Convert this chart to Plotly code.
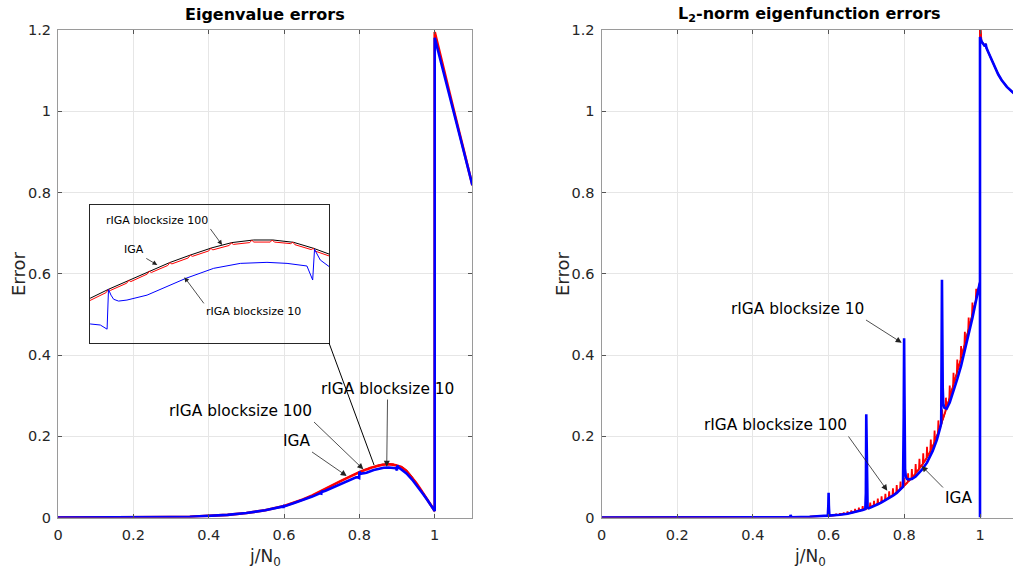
import plotly.graph_objects as go

W, H = 1013, 576

# ---------------- Left panel: eigenvalue errors ----------------
ev_x_iga = [0, 0.1, 0.2, 0.25, 0.3, 0.35, 0.4, 0.45, 0.5, 0.55, 0.6, 0.625, 0.65, 0.675, 0.7, 0.725,
            0.75, 0.775, 0.7912, 0.8, 0.8104, 0.8205, 0.8299, 0.84, 0.8506, 0.8603, 0.8709, 0.8803,
            0.8904, 0.9001, 0.908, 0.915, 0.925, 0.94, 0.95, 0.96, 0.97, 0.98, 0.99, 1.0,
            1.0, 1.025, 1.05, 1.075, 1.1]
ev_y_iga = [0, 0.00001, 0.00015, 0.0004, 0.0009, 0.0019, 0.0037, 0.0065, 0.011, 0.018, 0.0285, 0.036,
            0.0445, 0.0545, 0.0655, 0.0775, 0.0895, 0.1015, 0.1091, 0.1125, 0.1161, 0.1197, 0.1228,
            0.1257, 0.1285, 0.1305, 0.1315, 0.1315, 0.1306, 0.1283, 0.1260, 0.1228, 0.1155, 0.0995,
            0.087, 0.0735, 0.0595, 0.0455, 0.030, 0.016,
            1.19, 1.097, 1.005, 0.912, 0.818]

ev_x_r100 = [0, 0.1, 0.2, 0.25, 0.3, 0.35, 0.4, 0.45, 0.5, 0.55, 0.6, 0.625, 0.65, 0.675, 0.7, 0.725,
             0.75, 0.775,
             0.789, 0.79, 0.791, 0.799, 0.8, 0.801, 0.809, 0.81, 0.811, 0.819, 0.82, 0.821,
             0.829, 0.83, 0.831, 0.839, 0.84, 0.841, 0.849, 0.85, 0.851, 0.859, 0.86, 0.861,
             0.869, 0.87, 0.871, 0.879, 0.88, 0.881, 0.889, 0.89, 0.891, 0.899, 0.9, 0.901,
             0.909, 0.91, 0.911,
             0.925, 0.94, 0.95, 0.96, 0.97, 0.98, 0.99, 1.0,
             1.0, 1.025, 1.05, 1.075, 1.1]
ev_y_r100 = [0, 0.00001, 0.00015, 0.0004, 0.0009, 0.0019, 0.0037, 0.0065, 0.011, 0.018, 0.0285, 0.036,
             0.0445, 0.0545, 0.0655, 0.0775, 0.0895, 0.1007,
             0.1074, 0.1086, 0.1082, 0.1113, 0.1125, 0.1121, 0.1149, 0.1160, 0.1155, 0.1184, 0.1195,
             0.1190, 0.1217, 0.1228, 0.1223, 0.1246, 0.1257, 0.1252, 0.1273, 0.1283, 0.1277, 0.1294,
             0.1304, 0.1298, 0.1305, 0.1314, 0.1307, 0.1307, 0.1315, 0.1307, 0.1301, 0.1307, 0.1297,
             0.1278, 0.1283, 0.1272, 0.1250, 0.1255, 0.1244,
             0.1147, 0.0987, 0.0862, 0.0727, 0.0587, 0.0447, 0.0292, 0.016,
             1.195, 1.097, 1.005, 0.912, 0.818]

ev_x_r10 = [0, 0.1, 0.2, 0.25, 0.3, 0.35, 0.4, 0.45, 0.5, 0.55, 0.595, 0.599, 0.6, 0.602, 0.625, 0.65,
            0.675, 0.695, 0.699, 0.7, 0.702, 0.71, 0.725, 0.75, 0.775, 0.7912, 0.7961, 0.7994, 0.8001,
            0.8013, 0.8026, 0.805, 0.8091, 0.8189, 0.838, 0.8514, 0.8644, 0.8774, 0.8872, 0.8969,
            0.8997, 0.9006, 0.9034, 0.9075, 0.915, 0.925, 0.94, 0.95, 0.96, 0.97, 0.98, 0.99, 1.0,
            1.0, 1.025, 1.05, 1.075, 1.1]
ev_y_r10 = [0, 0.00001, 0.00015, 0.0004, 0.0009, 0.0019, 0.0037, 0.0065, 0.011, 0.0178, 0.0266, 0.0262,
            0.0285, 0.0280, 0.0350, 0.0425, 0.0515, 0.0595, 0.0585, 0.0652, 0.0635, 0.0660, 0.0720,
            0.0825, 0.0935, 0.0992, 0.0988, 0.0972, 0.1125, 0.1103, 0.1087, 0.1080, 0.1084, 0.1103,
            0.1168, 0.1206, 0.1225, 0.1229, 0.1225, 0.1215, 0.1161, 0.1279, 0.1238, 0.1212, 0.1170,
            0.1085, 0.0935, 0.0820, 0.0695, 0.0565, 0.0435, 0.0285, 0.016,
            1.181, 1.092, 1.002, 0.910, 0.818]

# ---------------- Right panel: L2-norm eigenfunction errors ----------------
ef_x_iga = [0, 0.3, 0.4, 0.45, 0.5, 0.55, 0.6, 0.61, 0.62, 0.63, 0.64, 0.65, 0.66, 0.67, 0.68, 0.69,
            0.7, 0.71, 0.72, 0.73, 0.74, 0.75, 0.76, 0.77, 0.78, 0.79, 0.8, 0.81, 0.82, 0.83, 0.84,
            0.85, 0.86, 0.87, 0.88, 0.89, 0.9, 0.91, 0.92, 0.93, 0.94, 0.95, 0.96, 0.97, 0.98, 0.99,
            1.0, 1.0, 1.004, 1.009, 1.013, 1.015, 1.017, 1.022, 1.031, 1.040, 1.048, 1.057, 1.071,
            1.087, 1.1]
ef_y_iga = [0, 0.00003, 0.0001, 0.0003, 0.0007, 0.0018, 0.0042, 0.0050, 0.0060, 0.0071, 0.0084, 0.0098,
            0.0117, 0.0139, 0.0163, 0.0190, 0.0220, 0.0254, 0.0291, 0.0333, 0.0380, 0.0430, 0.0487,
            0.0548, 0.0616, 0.0695, 0.0780, 0.0875, 0.0975, 0.1085, 0.1205, 0.1330, 0.148, 0.165,
            0.186, 0.210, 0.236, 0.265, 0.295, 0.326, 0.359, 0.392, 0.427, 0.462, 0.499, 0.538,
            0.580, 1.22, 1.172, 1.166, 1.160, 1.166, 1.156, 1.145, 1.125, 1.106, 1.091, 1.077, 1.060,
            1.046, 1.038]

# rIGA blocksize 100: narrow teeth at every block boundary (left foot, top, right foot)
ef_x_r100 = [0, 0.3, 0.4, 0.45, 0.5, 0.55,
             0.5988, 0.60, 0.6012, 0.6088, 0.61, 0.6112, 0.6188, 0.62, 0.6212,
             0.6288, 0.63, 0.6312, 0.6388, 0.64, 0.6412, 0.6488, 0.65, 0.6512,
             0.6588, 0.66, 0.6612, 0.6688, 0.67, 0.6712, 0.6788, 0.68, 0.6812,
             0.6888, 0.69, 0.6912, 0.6988, 0.70, 0.7012, 0.7088, 0.71, 0.7112,
             0.7188, 0.72, 0.7212, 0.7288, 0.73, 0.7312, 0.7388, 0.74, 0.7412,
             0.7488, 0.75, 0.7512, 0.7588, 0.76, 0.7612, 0.7688, 0.77, 0.7712,
             0.7788, 0.78, 0.7812, 0.7888, 0.79, 0.7912, 0.7988, 0.80, 0.8012,
             0.8088, 0.81, 0.8112, 0.8188, 0.82, 0.8212, 0.8288, 0.83, 0.8312,
             0.8388, 0.84, 0.8412, 0.8488, 0.85, 0.8512, 0.8588, 0.86, 0.8612,
             0.8688, 0.87, 0.8712, 0.8788, 0.88, 0.8812, 0.8888, 0.89, 0.8912,
             0.8988, 0.90, 0.9012, 0.9088, 0.91, 0.9112, 0.9188, 0.92, 0.9212,
             0.9288, 0.93, 0.9312, 0.9388, 0.94, 0.9412, 0.9488, 0.95, 0.9512,
             0.9588, 0.96, 0.9612, 0.9688, 0.97, 0.9712, 0.9788, 0.98, 0.9812,
             0.9888, 0.99, 0.9912,
             1.0, 1.0, 1.004, 1.009, 1.013, 1.015, 1.017, 1.022, 1.031, 1.040, 1.048, 1.057, 1.071,
             1.087, 1.1]
ef_y_r100 = [0, 0.00003, 0.0001, 0.0003, 0.0007, 0.0018,
             0.0041, 0.0062, 0.0043, 0.0049, 0.0070, 0.0051, 0.0059, 0.0090, 0.0061,
             0.0069, 0.0101, 0.0073, 0.0082, 0.0124, 0.0086, 0.0096, 0.0148, 0.0100,
             0.0115, 0.0177, 0.0119, 0.0136, 0.0209, 0.0142, 0.0160, 0.0243, 0.0166,
             0.0187, 0.0280, 0.0193, 0.0216, 0.0320, 0.0224, 0.0250, 0.0364, 0.0258,
             0.0286, 0.0411, 0.0296, 0.0328, 0.0463, 0.0338, 0.0374, 0.0520, 0.0386,
             0.0424, 0.0580, 0.0436, 0.0480, 0.0647, 0.0494, 0.0540, 0.0718, 0.0556,
             0.0607, 0.0796, 0.0625, 0.0685, 0.0885, 0.0705, 0.0769, 0.0980, 0.0791,
             0.0863, 0.1085, 0.0887, 0.0962, 0.1195, 0.0988, 0.1071, 0.1315, 0.1099,
             0.1190, 0.1445, 0.1220, 0.1313, 0.1580, 0.1347, 0.1461, 0.1740, 0.1499,
             0.1627, 0.1920, 0.1673, 0.1833, 0.2140, 0.1887, 0.2070, 0.2390, 0.2130,
             0.2327, 0.2660, 0.2393, 0.2615, 0.2950, 0.2685, 0.2913, 0.3250, 0.2987,
             0.3222, 0.3560, 0.3298, 0.3550, 0.3890, 0.3630, 0.3879, 0.4220, 0.3961,
             0.4228, 0.4570, 0.4312, 0.4577, 0.4920, 0.4663, 0.4944, 0.5290, 0.5036,
             0.5331, 0.5630, 0.5429,
             0.580, 1.22, 1.172, 1.166, 1.160, 1.166, 1.156, 1.145, 1.125, 1.106, 1.091, 1.077, 1.060,
             1.046, 1.038]

ef_x_r10 = [0, 0.3, 0.4, 0.45, 0.49, 0.4985, 0.4995, 0.5005, 0.502, 0.55, 0.59, 0.598, 0.5993, 0.6,
            0.6007, 0.602, 0.61, 0.63, 0.65, 0.67, 0.69, 0.697, 0.6985, 0.6995, 0.7005, 0.7015,
            0.703, 0.706, 0.71, 0.72, 0.73, 0.74, 0.75, 0.76, 0.77, 0.78, 0.79, 0.7966, 0.7985,
            0.7995, 0.8005, 0.802, 0.804, 0.807, 0.812, 0.82, 0.83, 0.846, 0.86, 0.875, 0.886, 0.895,
            0.8975, 0.8985, 0.8995, 0.9005, 0.9015, 0.903, 0.906, 0.912, 0.92, 0.93, 0.94, 0.95,
            0.965, 0.98, 0.99, 0.997, 1.0, 1.0, 1.0,
            1.004, 1.009, 1.013, 1.015, 1.017, 1.022, 1.031, 1.040, 1.048, 1.057, 1.071, 1.087, 1.1]
ef_y_r10 = [0, 0.00003, 0.0001, 0.0003, 0.0006, 0.0008, 0.006, 0.0009, 0.0007, 0.0018, 0.0036, 0.0045,
            0.030, 0.061, 0.030, 0.0045, 0.0046, 0.0066, 0.0094, 0.0135, 0.0185, 0.0210, 0.060,
            0.254, 0.150, 0.040, 0.024, 0.0225, 0.0245, 0.0285, 0.0325, 0.0370, 0.0420, 0.0475,
            0.0537, 0.0605, 0.0690, 0.0760, 0.250, 0.441, 0.300, 0.120, 0.100, 0.095, 0.094, 0.095,
            0.101, 0.117, 0.135, 0.164, 0.191, 0.222, 0.232, 0.40, 0.585, 0.45, 0.32, 0.28, 0.270,
            0.268, 0.283, 0.310, 0.341, 0.373, 0.429, 0.491, 0.536, 0.568, 0.58, 0.0, 1.183,
            1.172, 1.166, 1.160, 1.166, 1.156, 1.145, 1.125, 1.106, 1.091, 1.077, 1.060, 1.046, 1.038]

x_tick_vals = [0, 0.2, 0.4, 0.6, 0.8, 1.0]
x_tick_text = ["0", "0.2", "0.4", "0.6", "0.8", "1"]
y_tick_vals = [0, 0.2, 0.4, 0.6, 0.8, 1.0, 1.2]
y_tick_text = ["0", "0.2", "0.4", "0.6", "0.8", "1", "1.2"]

FONT = "DejaVu Sans"
TXT = "#262626"
AX = "#9a9a9a"
GRID = "#e6e6e6"


def px(x):
    return x / W


def py(y):
    return 1 - y / H


fig = go.Figure()

# left panel (x, y)
fig.add_trace(go.Scatter(x=ev_x_iga, y=ev_y_iga, mode="lines", line=dict(color="black", width=1.3),
                         xaxis="x", yaxis="y"))
fig.add_trace(go.Scatter(x=ev_x_r100, y=ev_y_r100, mode="lines", line=dict(color="#ff0000", width=2.6),
                         xaxis="x", yaxis="y"))
fig.add_trace(go.Scatter(x=ev_x_r10, y=ev_y_r10, mode="lines", line=dict(color="#0000ff", width=2.6),
                         xaxis="x", yaxis="y"))
# right panel (x2, y2)
fig.add_trace(go.Scatter(x=ef_x_iga, y=ef_y_iga, mode="lines", line=dict(color="black", width=1.3),
                         xaxis="x2", yaxis="y2"))
fig.add_trace(go.Scatter(x=ef_x_r100, y=ef_y_r100, mode="lines", line=dict(color="#ff0000", width=1.8),
                         xaxis="x2", yaxis="y2"))
fig.add_trace(go.Scatter(x=ef_x_r10, y=ef_y_r10, mode="lines", line=dict(color="#0000ff", width=2.6),
                         xaxis="x2", yaxis="y2"))
# inset (x3, y3)
fig.add_trace(go.Scatter(x=ev_x_iga, y=ev_y_iga, mode="lines", line=dict(color="black", width=1.0),
                         xaxis="x3", yaxis="y3"))
fig.add_trace(go.Scatter(x=ev_x_r100, y=ev_y_r100, mode="lines", line=dict(color="#ff0000", width=1.0),
                         xaxis="x3", yaxis="y3"))
fig.add_trace(go.Scatter(x=ev_x_r10, y=ev_y_r10, mode="lines", line=dict(color="#0000ff", width=1.0),
                         xaxis="x3", yaxis="y3"))

axis_common = dict(showgrid=True, gridcolor=GRID, gridwidth=1, zeroline=False, showline=True,
                   linecolor=AX, linewidth=1, ticks="inside", ticklen=4, tickcolor="#555555",
                   automargin=False, tickfont=dict(family=FONT, size=14.5, color=TXT))

fig.update_layout(
    width=W, height=H,
    margin=dict(l=0, r=0, t=0, b=0, pad=0, autoexpand=False),
    paper_bgcolor="white",
    plot_bgcolor="rgba(0,0,0,0)",
    showlegend=False,
    xaxis=dict(domain=[px(58), px(472.4)], range=[0, 1.1], anchor="y", mirror="ticks",
               tickvals=x_tick_vals, ticktext=x_tick_text, ticklabelstandoff=4, **axis_common),
    yaxis=dict(domain=[py(517.5), py(30)], range=[0, 1.2], anchor="x", mirror="ticks",
               tickvals=y_tick_vals, ticktext=y_tick_text, ticklabelstandoff=3, **axis_common),
    xaxis2=dict(domain=[px(601.5), 1.0], range=[0, (W - 601.5) / 378.5], anchor="y2", mirror="ticks",
                tickvals=x_tick_vals, ticktext=x_tick_text, ticklabelstandoff=4, **axis_common),
    yaxis2=dict(domain=[py(517.5), py(30)], range=[0, 1.2], anchor="x2", mirror=False,
                tickvals=y_tick_vals, ticktext=y_tick_text, ticklabelstandoff=3, **axis_common),
    xaxis3=dict(domain=[px(90), px(329)], range=[0.79107, 0.90766], anchor="y3", showgrid=False,
                zeroline=False, showline=True, mirror=True, linecolor="#262626", linewidth=1,
                ticks="", showticklabels=False, automargin=False),
    yaxis3=dict(domain=[py(343), py(205)], range=[0.09188, 0.14496], anchor="x3", showgrid=False,
                zeroline=False, showline=True, mirror=True, linecolor="#262626", linewidth=1,
                ticks="", showticklabels=False, automargin=False),
)

ann = []

# titles and axis labels
ann.append(dict(text="<b>Eigenvalue errors</b>", x=px(265.2), y=py(14), xref="paper", yref="paper",
                showarrow=False, font=dict(family=FONT, size=16, color="black"),
                xanchor="center", yanchor="middle"))
ann.append(dict(text="<b>L<sub>2</sub>-norm eigenfunction errors</b>", x=px(809.7), y=py(14),
                xref="paper", yref="paper", showarrow=False,
                font=dict(family=FONT, size=16, color="black"), xanchor="center", yanchor="middle"))
for xc in (265.2, 809.7):
    ann.append(dict(text="j/N<sub>0</sub>", x=px(xc), y=py(557), xref="paper", yref="paper",
                    showarrow=False, font=dict(family=FONT, size=17, color=TXT),
                    xanchor="center", yanchor="middle"))
for xc in (18, 562):
    ann.append(dict(text="Error", x=px(xc), y=py(274), xref="paper", yref="paper", textangle=-90,
                    showarrow=False, font=dict(family=FONT, size=18, color=TXT),
                    xanchor="center", yanchor="middle"))

# labelled arrows: (text, axis x, axis y, tip x, tip y, tail dx px, tail dy px, xanchor, yanchor,
#                   font size, head size)
arrow_labels = [
    ("rIGA blocksize 10", "x", "y", 0.8726, 0.125, 0.8, -67.2, "center", "bottom", 15.4, 1.5),
    ("rIGA blocksize 100", "x", "y", 0.8105, 0.1186, -49.3, -47.3, "right", "bottom", 15.4, 1.5),
    ("IGA", "x", "y", 0.7664, 0.1022, -34.7, -24, "right", "bottom", 15.4, 1.5),
    ("rIGA blocksize 100", "x3", "y3", 0.8555, 0.1296, -11.7, -16, "right", "bottom", 11, 1.2),
    ("IGA", "x3", "y3", 0.8239, 0.1219, -11, -6.5, "right", "bottom", 11, 1.2),
    ("rIGA blocksize 10", "x3", "y3", 0.8371, 0.1172, 19.5, 26.2, "left", "top", 11, 1.2),
    ("rIGA blocksize 10", "x2", "y2", 0.7931, 0.4303, -35.7, -22.7, "right", "bottom", 15.4, 1.5),
    ("rIGA blocksize 100", "x2", "y2", 0.7551, 0.066, -38.8, -54.2, "right", "bottom", 15.4, 1.5),
    ("IGA", "x2", "y2", 0.846, 0.1268, 21.3, 21.5, "left", "top", 15.4, 1.5),
]
for t, xr, yr, xx, yy, axp, ayp, xa, ya, fs, sz in arrow_labels:
    ann.append(dict(text=t, x=xx, y=yy, xref=xr, yref=yr, ax=axp, ay=ayp, axref="pixel",
                    ayref="pixel", xanchor=xa, yanchor=ya, showarrow=True, arrowhead=2,
                    arrowsize=sz, arrowwidth=0.8, arrowcolor="#222222", standoff=0,
                    font=dict(family=FONT, size=fs, color="black")))

fig.update_layout(annotations=ann)

# zoom connector line from the inset's lower-right corner to the curve peak region
fig.add_shape(type="line", xref="x", yref="y", x0=0.7194, y0=0.4295, x1=0.839, y1=0.129,
              line=dict(color="black", width=1))

fig.write_html("out.html", config={"displayModeBar": False},
               post_script="document.body.style.margin='0';document.body.style.overflow='hidden';")
